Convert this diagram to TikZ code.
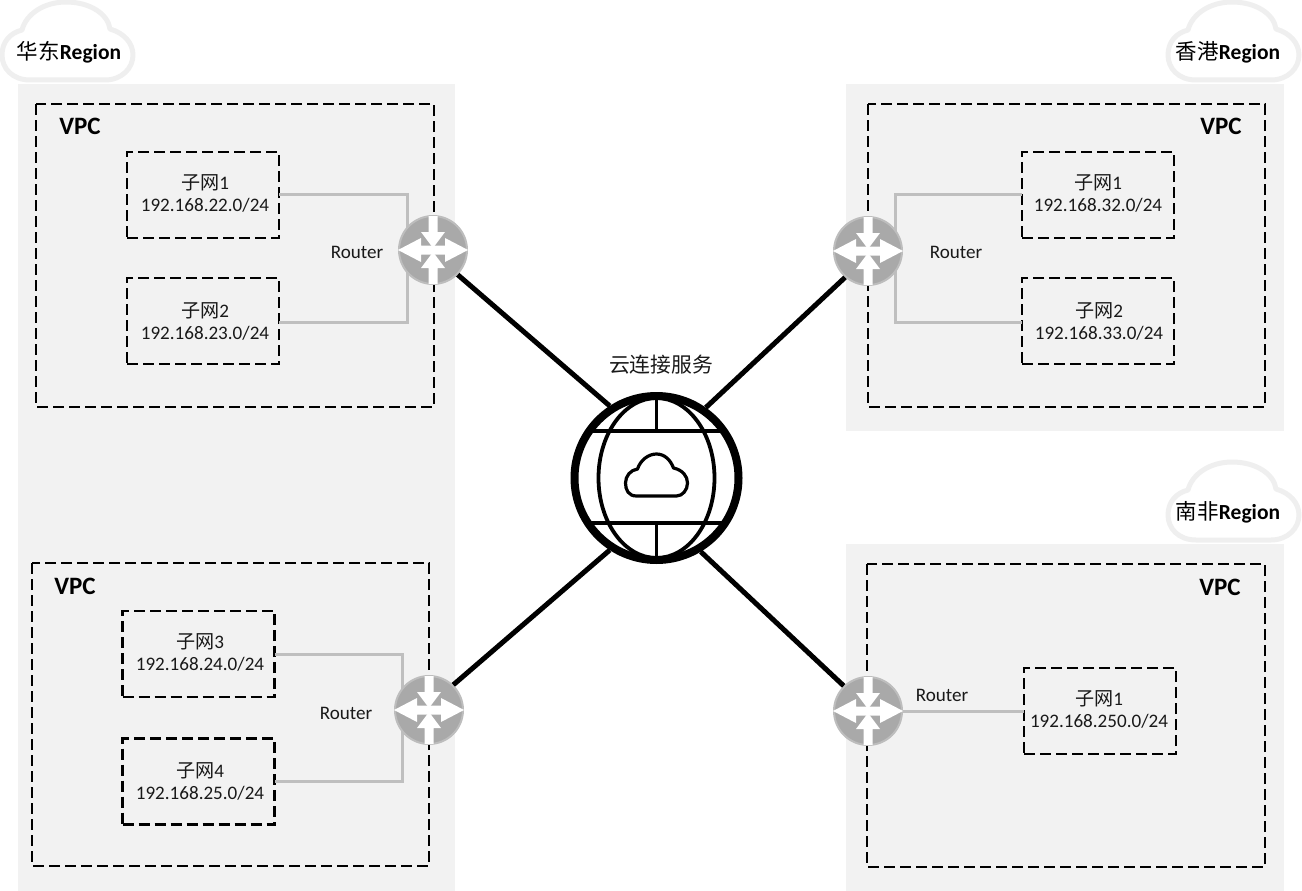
\documentclass[tikz,border=0pt]{standalone}
\usepackage{fontspec}
\setmainfont{Carlito}
\newfontfamily\cjkf{Noto Sans CJK SC}
\newcommand\zh[1]{{\mdseries\cjkf #1}}
\definecolor{panelgray}{HTML}{F2F2F2}
\definecolor{linkgray}{HTML}{BFBFBF}
\definecolor{cloudedge}{HTML}{EFEFEF}
\definecolor{routerfill}{HTML}{A9A9A9}
\definecolor{routeredge}{HTML}{BDBDBD}
\tikzset{
  panel/.style={fill=panelgray,draw=none},
  vpcbox/.style={draw=black,line width=2.3pt,dash pattern=on 11pt off 5pt},
  subnet/.style={vpcbox,minimum width=152pt,minimum height=86pt,inner sep=0pt,outer sep=0pt,align=center},
  subnettext/.style={font=\fontsize{19.1}{22}\selectfont,text=black!90,align=center,inner sep=0pt},
  vpclabel/.style={font=\fontsize{25}{28}\selectfont\bfseries},
  reglabel/.style={font=\fontsize{21.5}{24}\selectfont\bfseries},
  plainlabel/.style={font=\fontsize{19.1}{22}\selectfont,text=black!90},
  graylink/.style={draw=linkgray,line width=3pt},
  blacklink/.style={draw=black,line width=5pt},
  routernode/.style={circle,draw=routeredge,fill=routerfill,line width=2pt,minimum size=68pt,inner sep=0pt},
  globenode/.style={circle,draw=black,fill=white,line width=8pt,minimum size=164pt,inner sep=0pt},
  regioncloud/.pic={
    \draw[cloudedge,fill=white,line width=5pt,line join=round]
      (30,80) .. controls (12,80) and (2,68) .. (2,55)
      .. controls (2,42) and (10,33) .. (22,30)
      .. controls (26,14) and (44,2) .. (66,2)
      .. controls (90,2) and (108,14) .. (110,29)
      .. controls (124,33) and (133,43) .. (133,55)
      .. controls (133,68) and (122,80) .. (105,80) -- cycle;
  },
  routerglyph/.pic={
    \fill[white] (-4.5,-34) -- (4.5,-34) -- (4.5,-18) -- (12,-18) -- (0,-2) -- (-12,-18) -- (-4.5,-18) -- cycle;
    \fill[white] (-4.5,34) -- (4.5,34) -- (4.5,18) -- (12,18) -- (0,2) -- (-12,18) -- (-4.5,18) -- cycle;
    \fill[white] (-35,0) -- (-12,-12) -- (-12,-4.5) -- (12,-4.5) -- (12,-12) -- (35,0) -- (12,12) -- (12,4.5) -- (-12,4.5) -- (-12,12) -- cycle;
  },
  globeglyph/.pic={
    \draw[black,line width=3.8pt] (0,0) ellipse [x radius=58,y radius=80];
    \draw[black,line width=3.8pt] (-66,-47) -- (66,-47) (-66,45) -- (66,45)
      (0,-80) -- (0,-47) (0,45) -- (0,80);
    \draw[black,line width=3.2pt,line join=round]
      (-20,18) .. controls (-28,18) and (-31,12) .. (-31,5)
      .. controls (-31,-2) and (-26,-8) .. (-19,-9)
      .. controls (-16,-18) and (-8,-24) .. (0,-24)
      .. controls (8,-24) and (14,-18) .. (17,-10)
      .. controls (26,-8) and (31,-2) .. (31,5)
      .. controls (31,12) and (26,18) .. (20,18) -- cycle;
  }
}
\begin{document}
\begin{tikzpicture}[x=1pt,y=-1pt]
\useasboundingbox (0,0) rectangle (1302,891);
% panels
\fill[panel] (18,84) rectangle (455,891);
\fill[panel] (846,84) rectangle (1284,431);
\fill[panel] (846,544) rectangle (1284,891);
% region clouds
\pic at (0,0) {regioncloud};
\pic at (1166,0) {regioncloud};
\pic at (1166,460) {regioncloud};
\node[reglabel] (regA) at (69,52) {\zh{华东}Region};
\node[reglabel] (regB) at (1228,52) {\zh{香港}Region};
\node[reglabel] (regC) at (1228,512) {\zh{南非}Region};
% VPC boxes
\draw[vpcbox] (36,104) rectangle (434,407);
\draw[vpcbox] (868,104) rectangle (1265,407);
\draw[vpcbox] (32,563) rectangle (429,866);
\draw[vpcbox] (867,564) rectangle (1265,867);
\node[vpclabel] (vA) at (80,126) {VPC};
\node[vpclabel] (vB) at (1221,126) {VPC};
\node[vpclabel] (vC) at (75,586) {VPC};
\node[vpclabel] (vD) at (1220,587) {VPC};
% subnets
\node[subnet] (s1) at (203,195) {};
\node[subnet] (s2) at (203,321) {};
\node[subnet] (s3) at (1098,195) {};
\node[subnet] (s4) at (1098,321) {};
\node[subnet] (s5) at (198.5,654) {};
\node[subnet] (s6) at (198.5,781.5) {};
\node[subnet] (s7) at (1100,711) {};
\node[subnettext] (t1) at (205,193) {\zh{子网}1\\192.168.22.0/24};
\node[subnettext] (t2) at (205,321) {\zh{子网}2\\192.168.23.0/24};
\node[subnettext] (t3) at (1098,193) {\zh{子网}1\\192.168.32.0/24};
\node[subnettext] (t4) at (1099,321) {\zh{子网}2\\192.168.33.0/24};
\node[subnettext] (t5) at (200,652) {\zh{子网}3\\192.168.24.0/24};
\node[subnettext] (t6) at (200,781) {\zh{子网}4\\192.168.25.0/24};
\node[subnettext] (t7) at (1099,709) {\zh{子网}1\\192.168.250.0/24};
% routers' positions and gray links
\coordinate (c1) at (433,250);
\coordinate (c2) at (868,251);
\coordinate (c3) at (429,710);
\coordinate (c4) at (868,711);
\draw[graylink] ([yshift=1pt]s1.east) -- ++(128,0) |- ([yshift=-1pt]s2.east);
\draw[graylink] ([yshift=1pt]s3.west) -- ++(-127,0) |- ([yshift=-1pt]s4.west);
\draw[graylink] (s5.east) -- ++(128,0) |- (s6.east);
\node[routernode] (r1) at (c1) {};
\node[routernode] (r2) at (c2) {};
\node[routernode] (r3) at (c3) {};
\node[routernode] (r4) at (c4) {};
\draw[graylink] (r4.east) -- (s7.west);
\pic at (r1) {routerglyph};
\pic at (r2) {routerglyph};
\pic at (r3) {routerglyph};
\pic at (r4) {routerglyph};
\node[plainlabel] (l1) at (357,252) {Router};
\node[plainlabel] (l2) at (956,252) {Router};
\node[plainlabel] (l3) at (346,713) {Router};
\node[plainlabel] (l4) at (942,695) {Router};
% globe
\node[globenode] (g) at (656.5,478) {};
\pic at (g) {globeglyph};
\node[plainlabel,font=\fontsize{20.8}{24}\selectfont] (gl) at (661,365) {\zh{云连接服务}};
% links
\draw[blacklink] (r1.-45) -- (g.123);
\draw[blacklink] (r2.229) -- (g.55);
\draw[blacklink] (r3.46) -- (g.237);
\draw[blacklink] (r4.134) -- (g.-59);
\end{tikzpicture}
\end{document}
